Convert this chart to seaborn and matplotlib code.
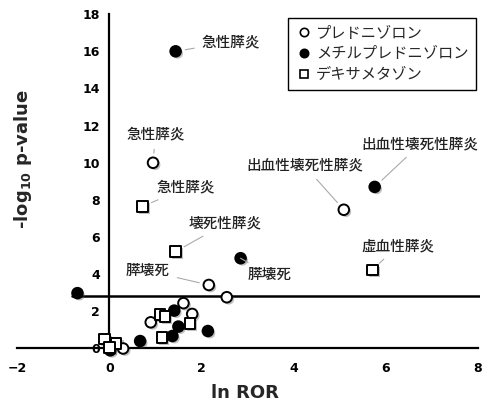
import matplotlib
matplotlib.use("Agg")
import matplotlib.pyplot as plt
import matplotlib.patheffects as pe
from matplotlib.lines import Line2D
import seaborn as sns
import pandas as pd

sns.set_theme(style="white")
plt.rcParams["font.family"] = ["Noto Sans CJK JP", "DejaVu Sans"]
plt.rcParams["mathtext.fontset"] = "dejavusans"

# drug names (legend)
drug_names = ["プレドニゾロン", "メチルプレドニゾロン", "デキサメタゾン"]

# ln ROR / -log10 p-value
pred_x = [0.95, 5.09, 2.16, 2.55, 1.61, 1.80, 0.90, 0.30]
pred_y = [10.0, 7.47, 3.42, 2.76, 2.44, 1.86, 1.41, 0.00]
mpred_x = [1.44, 5.76, 2.85, -0.69, 1.41, 1.50, 1.37, 2.14, 0.67, 0.02]
mpred_y = [16.0, 8.70, 4.86, 2.98, 2.04, 1.18, 0.67, 0.94, 0.40, -0.10]
dexa_x = [0.72, 1.44, 5.71, 1.10, 1.21, 1.75, 1.14, -0.10, 0.15, 0.00]
dexa_y = [7.64, 5.22, 4.23, 1.84, 1.71, 1.34, 0.58, 0.51, 0.28, 0.04]

threshold = 2.8

# labelled points: (text, point x, point y, text x, text y)
label_text = ["急性膵炎", "急性膵炎", "急性膵炎", "壊死性膵炎", "膵壊死", "膵壊死",
              "出血性壊死性膵炎", "出血性壊死性膵炎", "虚血性膵炎"]
label_px = [1.44, 0.95, 0.72, 1.44, 2.16, 2.85, 5.76, 5.09, 5.71]
label_py = [16.0, 10.0, 7.64, 5.22, 3.42, 4.86, 8.70, 7.47, 4.23]
label_tx = [2.64, 1.00, 1.65, 2.51, 0.84, 3.48, 6.75, 4.24, 6.26]
label_ty = [16.5, 11.5, 8.65, 6.71, 4.18, 3.96, 11.0, 9.83, 5.52]

df = pd.DataFrame({
    "x": mpred_x + pred_x + dexa_x,
    "y": mpred_y + pred_y + dexa_y,
    "drug": [drug_names[1]] * len(mpred_x) + [drug_names[0]] * len(pred_x)
            + [drug_names[2]] * len(dexa_x),
})

fig = plt.figure(figsize=(4.89, 4.05), dpi=100)
ax = fig.add_axes([0.035, 0.112, 0.947, 0.853])

palette = {drug_names[0]: "white", drug_names[1]: "black", drug_names[2]: "white"}
markers = {drug_names[0]: "o", drug_names[1]: "o", drug_names[2]: "s"}
sns.scatterplot(data=df, x="x", y="y", hue="drug", style="drug", palette=palette,
                markers=markers, s=58, edgecolor="black", linewidth=1.4,
                legend=False, ax=ax, zorder=3)
for c in ax.collections:
    c.set_path_effects([pe.SimplePatchShadow(offset=(1.5, -1.5), alpha=0.35,
                                             shadow_rgbFace=(0.3, 0.3, 0.3)),
                        pe.Normal()])

ax.plot([-0.8, 8.05], [threshold, threshold], color="black", lw=1.8, zorder=2)

for t, px, py, tx, ty in zip(label_text, label_px, label_py, label_tx, label_ty):
    ax.annotate(t, xy=(px, py), xytext=(tx, ty), ha="center", va="center",
                fontsize=10.5, fontweight="medium", color="#222222",
                arrowprops=dict(arrowstyle="-", color="#aaaaaa", lw=0.8,
                                shrinkA=3, shrinkB=7))

ax.set_xlim(-2, 8.05)
ax.set_ylim(-0.6, 18)
ax.spines["left"].set_position(("data", 0))
ax.spines["bottom"].set_position(("data", 0))
ax.spines["right"].set_visible(False)
ax.spines["top"].set_visible(False)
ax.spines["left"].set_bounds(0, 18)
ax.spines["bottom"].set_bounds(-2, 8)
for s in ["left", "bottom"]:
    ax.spines[s].set_linewidth(1.6)
    ax.spines[s].set_color("black")
ax.set_xticks([-2, 0, 2, 4, 6, 8])
ax.set_yticks(range(0, 19, 2))
ax.tick_params(axis="both", direction="inout", length=5, width=1.4,
               labelsize=9, colors="black")
ax.tick_params(axis="x", pad=7)
ax.tick_params(axis="y", pad=4)
for lab in ax.get_xticklabels() + ax.get_yticklabels():
    lab.set_fontweight("bold")
    lab.set_family(["DejaVu Sans"])

ax.set_xlabel("ln ROR", fontsize=13, fontweight="bold", family=["DejaVu Sans"])
ax.set_ylabel(r"-log$_{\mathbf{10}}$ p-value", fontsize=13, fontweight="bold",
              family=["DejaVu Sans"])
ax.xaxis.set_label_coords(0.492, -0.07)
ax.yaxis.set_label_coords(0.037, 0.58)

handles = [
    Line2D([], [], marker="o", ls="", mfc="white", mec="black", ms=6, mew=1.2),
    Line2D([], [], marker="o", ls="", mfc="black", mec="black", ms=6, mew=1.2),
    Line2D([], [], marker="s", ls="", mfc="white", mec="black", ms=6, mew=1.2),
]
leg = ax.legend(handles, drug_names, loc="upper right", bbox_to_anchor=(0.99, 0.99),
                fontsize=11, frameon=True, fancybox=False, framealpha=1,
                edgecolor="black", handletextpad=0.2, handlelength=1.2,
                borderpad=0.45, labelspacing=0.25, borderaxespad=0)
leg.get_frame().set_linewidth(1.0)

fig.savefig("out.png", dpi=100)
